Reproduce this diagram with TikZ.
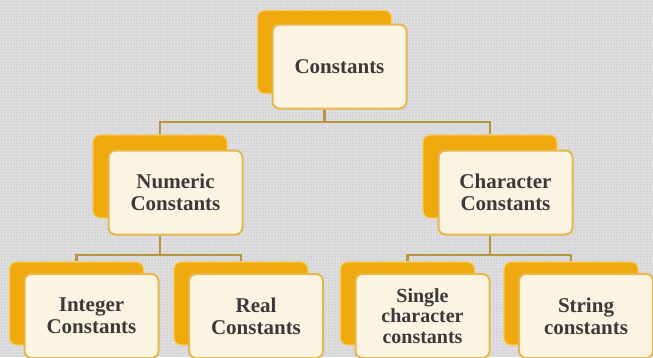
\documentclass[tikz,border=0pt]{standalone}
\usepackage{fontspec}
\setmainfont{Liberation Serif}
\definecolor{bgc}{HTML}{D5D5D8}
\definecolor{backc}{HTML}{EFA90C}
\definecolor{backd}{HTML}{F7CC5E}
\definecolor{frontc}{HTML}{FCF4E2}
\definecolor{frontd}{HTML}{E6B84C}
\definecolor{linec}{HTML}{B8963E}
\definecolor{txt}{HTML}{3A3A3A}
\begin{document}
\begin{tikzpicture}[x=1pt,y=-1pt,
  backbox/.style={draw=backd,fill=backc,line width=1.2pt,rounded corners=7pt,minimum width=134pt,minimum height=83pt,inner sep=0pt},
  frontbox/.style={draw=frontd,fill=frontc,line width=2pt,rounded corners=7pt,minimum width=134pt,minimum height=84pt,inner sep=0pt,
    text=txt,font=\fontsize{21}{22}\selectfont\bfseries,align=center},
  conn/.style={draw=linec,line width=2.2pt}]
\useasboundingbox (0,0) rectangle (653,357);
\fill[bgc] (0,0) rectangle (653,357);
\draw[white,opacity=0.25,line width=0.5pt,step=3pt] (0,0) grid (653,357);
% level 1
\node[backbox] (cb) at (324.5,52) {};
\node[frontbox] (cf) at (339.5,66.5) {Constants};
% level 2
\node[backbox] (nb) at (160,176.5) {};
\node[frontbox] (nf) at (175.5,192.5) {Numeric\\Constants};
\node[backbox] (hb) at (490,176.5) {};
\node[frontbox] (hf) at (505.5,192.5) {Character\\Constants};
% level 3
\node[backbox] (ib) at (76.5,303.5) {};
\node[frontbox] (if) at (91.5,316) {Integer\\Constants};
\node[backbox] (rb) at (241,303.5) {};
\node[frontbox] (rf) at (256,316) {Real\\Constants};
\node[backbox] (sb) at (407.5,303.5) {};
\node[frontbox,font=\fontsize{20}{20.5}\selectfont\bfseries] (sf) at (422.5,316) {Single\\character\\constants};
\node[backbox] (tb) at (571,303.5) {};
\node[frontbox] (tf) at (586,316) {String\\constants};
% junctions
\coordinate (j1) at (324.5,122);
\coordinate (j2) at (160,255);
\coordinate (j3) at (490,255);
% connectors
\draw[conn] (cf.south -| cb.center) -- (j1);
\draw[conn] (nb.north) |- (j1) -| (hb.north);
\draw[conn] (nf.south -| nb.center) -- (j2);
\draw[conn] (ib.north) |- (j2) -| (rb.north);
\draw[conn] (hf.south -| hb.center) -- (j3);
\draw[conn] (sb.north) |- (j3) -| (tb.north);
\end{tikzpicture}
\end{document}
